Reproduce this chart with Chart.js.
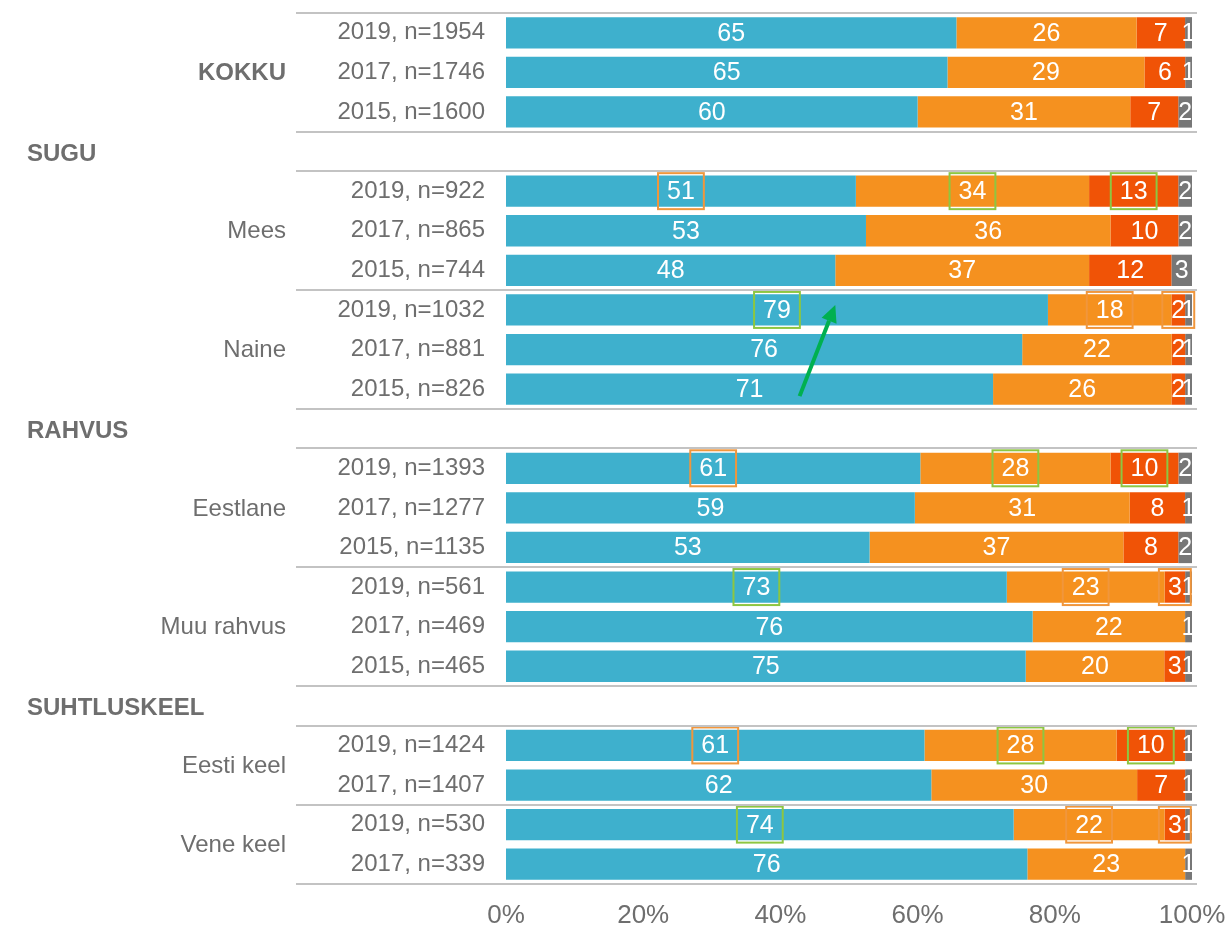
<!DOCTYPE html>
<html>
<head>
<meta charset="utf-8">
<script src="https://cdn.jsdelivr.net/npm/chart.js@4/dist/chart.umd.min.js"></script>
<style>
  html, body { margin: 0; padding: 0; background: #ffffff; }
  canvas { display: block; }
</style>
</head>
<body>
<canvas id="c" width="1230" height="928"></canvas>
<script>
// ---------- DATA ----------
// One entry per row slot (header slots are empty)
const rowLabels = [
  '2019, n=1954', '2017, n=1746', '2015, n=1600',
  '',
  '2019, n=922', '2017, n=865', '2015, n=744',
  '2019, n=1032', '2017, n=881', '2015, n=826',
  '',
  '2019, n=1393', '2017, n=1277', '2015, n=1135',
  '2019, n=561', '2017, n=469', '2015, n=465',
  '',
  '2019, n=1424', '2017, n=1407',
  '2019, n=530', '2017, n=339'
];
const groupOf = [
  'KOKKU', 'KOKKU', 'KOKKU',
  '',
  'Mees', 'Mees', 'Mees',
  'Naine', 'Naine', 'Naine',
  '',
  'Eestlane', 'Eestlane', 'Eestlane',
  'Muu rahvus', 'Muu rahvus', 'Muu rahvus',
  '',
  'Eesti keel', 'Eesti keel',
  'Vene keel', 'Vene keel'
];
const sectionOf = [
  '', '', '', 'SUGU', '', '', '', '', '', '', 'RAHVUS',
  '', '', '', '', '', '', 'SUHTLUSKEEL', '', '', '', ''
];
const boldGroups = ['KOKKU'];

const answer1 = [65, 65, 60, null, 51, 53, 48, 79, 76, 71, null, 61, 59, 53, 73, 76, 75, null, 61, 62, 74, 76];
const answer2 = [26, 29, 31, null, 34, 36, 37, 18, 22, 26, null, 28, 31, 37, 23, 22, 20, null, 28, 30, 22, 23];
const answer3 = [7, 6, 7, null, 13, 10, 12, 2, 2, 2, null, 10, 8, 8, 3, 0, 3, null, 10, 7, 3, 0];
const answer4 = [1, 1, 2, null, 2, 2, 3, 1, 1, 1, null, 2, 1, 2, 1, 1, 1, null, 1, 1, 1, 1];

// Significance marks around labels: 'g' = green box, 'o' = orange box
const marks1 = [null,null,null,null,'o',null,null,'g',null,null,null,'o',null,null,'g',null,null,null,'o',null,'g',null];
const marks2 = [null,null,null,null,'g',null,null,'o',null,null,null,'g',null,null,'o',null,null,null,'g',null,'o',null];
const marks3 = [null,null,null,null,'g',null,null,'o',null,null,null,'g',null,null,'o',null,null,null,'g',null,'o',null];
const marks4 = [null,null,null,null,null,null,null,null,null,null,null,null,null,null,null,null,null,null,null,null,null,null];

const xTicks = [0, 20, 40, 60, 80, 100];

// ---------- BUILD ----------
const FONT = '"Liberation Sans", Arial, Helvetica, sans-serif';
const TEXT = '#6e6e6e';
const seriesRaw = [answer1, answer2, answer3, answer4];
const seriesMarks = [marks1, marks2, marks3, marks4];
const seriesColors = ['#3EB0CD', '#F5911F', '#F05306', '#777777'];
const seriesNames = ['Vastus 1', 'Vastus 2', 'Vastus 3', 'Vastus 4'];

const totals = rowLabels.map((_, i) =>
  seriesRaw.reduce((s, arr) => s + (arr[i] == null ? 0 : arr[i]), 0));
const datasets = seriesRaw.map((arr, k) => ({
  label: seriesNames[k],
  data: arr.map((v, i) => (v == null || totals[i] === 0) ? null : v / totals[i] * 100),
  backgroundColor: seriesColors[k],
  borderWidth: 0,
  barPercentage: 0.79,
  categoryPercentage: 1.0
}));

function zeroPad(s) {
  s.paddingLeft = 0; s.paddingRight = 0; s.paddingTop = 0; s.paddingBottom = 0;
}

const overlay = {
  id: 'overlay',
  afterDatasetsDraw(chart) {
    const { ctx, scales: { x, y } } = chart;
    ctx.save();
    ctx.font = '25px ' + FONT;
    ctx.textAlign = 'center';
    ctx.textBaseline = 'middle';
    ctx.fillStyle = '#ffffff';
    const boxes = [];
    chart.data.datasets.forEach((ds, di) => {
      const meta = chart.getDatasetMeta(di);
      meta.data.forEach((bar, i) => {
        const raw = seriesRaw[di][i];
        if (raw == null || raw === 0) return;
        const cx = (bar.x + bar.base) / 2;
        ctx.fillText(String(raw), cx, bar.y + 1);
        const m = seriesMarks[di][i];
        if (m) {
          const w = ctx.measureText(String(raw)).width + 18;
          boxes.push({ cx, cy: bar.y, w, color: m === 'g' ? '#8DC641' : '#F0963C' });
        }
      });
    });
    ctx.lineWidth = 2;
    boxes.forEach(b => {
      ctx.strokeStyle = b.color;
      ctx.strokeRect(b.cx - b.w / 2, b.cy - 18, b.w, 36);
    });

    // arrow (Naine trend)
    const x0 = x.getPixelForValue(42.8), y0 = y.getPixelForValue(9) + 7;
    const x1 = x.getPixelForValue(48), y1 = y.getPixelForValue(7) - 5;
    const ang = Math.atan2(y1 - y0, x1 - x0);
    const hl = 17, hw = 8;
    const bx = x1 - hl * Math.cos(ang), by = y1 - hl * Math.sin(ang);
    ctx.strokeStyle = '#00B050';
    ctx.fillStyle = '#00B050';
    ctx.lineWidth = 4;
    ctx.beginPath();
    ctx.moveTo(x0, y0);
    ctx.lineTo(bx, by);
    ctx.stroke();
    ctx.beginPath();
    ctx.moveTo(x1, y1);
    ctx.lineTo(bx + hw * Math.sin(ang), by - hw * Math.cos(ang));
    ctx.lineTo(bx - hw * Math.sin(ang), by + hw * Math.cos(ang));
    ctx.closePath();
    ctx.fill();
    ctx.restore();
  },
  afterDraw(chart) {
    const { ctx, chartArea, scales: { y } } = chart;
    const half = (y.getPixelForValue(1) - y.getPixelForValue(0)) / 2;
    ctx.save();
    // separator lines
    const lineYs = new Set();
    groupOf.forEach((g, i) => {
      if (!g) return;
      if (i === 0 || groupOf[i - 1] !== g) lineYs.add(Math.round(y.getPixelForValue(i) - half));
      if (i === groupOf.length - 1 || groupOf[i + 1] !== g) lineYs.add(Math.round(y.getPixelForValue(i) + half));
    });
    ctx.strokeStyle = '#C3C3C3';
    ctx.lineWidth = 2;
    lineYs.forEach(ly => {
      ctx.beginPath();
      ctx.moveTo(296, ly);
      ctx.lineTo(chartArea.right + 5, ly);
      ctx.stroke();
    });
    // group labels
    ctx.fillStyle = TEXT;
    ctx.textBaseline = 'middle';
    ctx.textAlign = 'right';
    const seen = [];
    groupOf.forEach((g, i) => {
      if (!g || seen.includes(g)) return;
      seen.push(g);
      const idx = groupOf.map((v, j) => v === g ? j : -1).filter(j => j >= 0);
      const cy = (y.getPixelForValue(idx[0]) + y.getPixelForValue(idx[idx.length - 1])) / 2;
      ctx.font = (boldGroups.includes(g) ? 'bold ' : '') + '24px ' + FONT;
      ctx.fillText(g, 286, cy + 1);
    });
    // section headers
    ctx.textAlign = 'left';
    ctx.font = 'bold 24px ' + FONT;
    sectionOf.forEach((s, i) => {
      if (!s) return;
      ctx.fillText(s, 27, y.getPixelForValue(i) + 3);
    });
    ctx.restore();
  }
};

new Chart(document.getElementById('c'), {
  type: 'bar',
  data: { labels: rowLabels, datasets },
  options: {
    indexAxis: 'y',
    responsive: false,
    animation: false,
    layout: { padding: { top: 13, right: 38, left: 0, bottom: 0 } },
    plugins: { legend: { display: false }, tooltip: { enabled: false } },
    scales: {
      x: {
        stacked: true, min: 0, max: 100,
        afterBuildTicks: (s) => { s.ticks = xTicks.map(v => ({ value: v })); },
        ticks: { callback: (v) => v + '%', color: TEXT, font: { size: 26, family: FONT }, padding: 16, maxRotation: 0 },
        grid: { display: false, drawTicks: false },
        border: { display: false },
        afterFit: (s) => { s.height = 44; zeroPad(s); }
      },
      y: {
        stacked: true,
        ticks: { color: TEXT, font: { size: 24, family: FONT }, padding: 21, autoSkip: false },
        grid: { display: false, drawTicks: false },
        border: { display: false },
        afterFit: (s) => { s.width = 506; zeroPad(s); }
      }
    }
  },
  plugins: [overlay]
});
</script>
</body>
</html>
